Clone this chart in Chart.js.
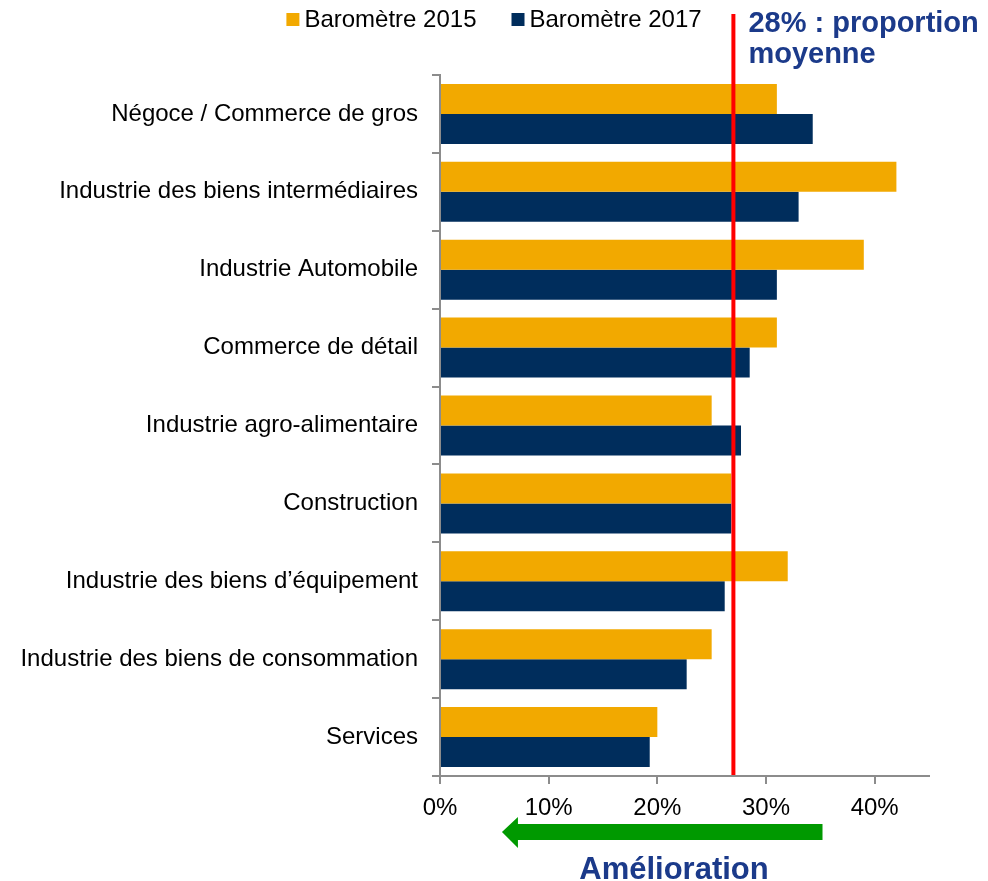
<!DOCTYPE html>
<html>
<head>
<meta charset="utf-8">
<script src="https://cdn.jsdelivr.net/npm/chart.js@4/dist/chart.umd.min.js"></script>
<style>
  html, body { margin: 0; padding: 0; background: #fff; }
  #wrap { width: 988px; height: 881px; position: relative; }
</style>
</head>
<body>
<div id="wrap"><canvas id="c" width="988" height="881"></canvas></div>
<script>
const categories = [
  "Négoce / Commerce de gros",
  "Industrie des biens intermédiaires",
  "Industrie Automobile",
  "Commerce de détail",
  "Industrie agro-alimentaire",
  "Construction",
  "Industrie des biens d\u2019équipement",
  "Industrie des biens de consommation",
  "Services"
];
const barometre2015 = [31, 42, 39, 31, 25, 26.8, 32, 25, 20];
const barometre2017 = [34.3, 33, 31, 28.5, 27.7, 26.8, 26.2, 22.7, 19.3];
const seriesLabels = ["Baromètre 2015", "Baromètre 2017"];
const xTicks = [0, 10, 20, 30, 40];
const averageLineValue = 27;
const averageText = ["28% : proportion", "moyenne"];
const arrowFrom = 35.2;
const arrowTo = 5.7;
const arrowText = "Amélioration";

const FONT = "'Liberation Sans', Arial, Helvetica, sans-serif";
const ORANGE = "#F2A900";
const NAVY = "#002D5C";
const TITLE_BLUE = "#1B3A8A";
const AXIS_GRAY = "#8C8C8C";

const overlay = {
  id: "overlay",
  afterDatasetsDraw(chart) {
    const ctx = chart.ctx;
    const xs = chart.scales.x;
    const area = chart.chartArea;
    ctx.save();
    // red average line
    const rx = xs.getPixelForValue(averageLineValue);
    ctx.strokeStyle = "#FF0000";
    ctx.lineWidth = 4;
    ctx.beginPath();
    ctx.moveTo(rx, 14);
    ctx.lineTo(rx, area.bottom - 1);
    ctx.stroke();

    // average text
    ctx.fillStyle = TITLE_BLUE;
    ctx.font = "bold 29px " + FONT;
    ctx.textAlign = "left";
    ctx.textBaseline = "alphabetic";
    ctx.fillText(averageText[0], rx + 15, 32);
    ctx.fillText(averageText[1], rx + 15, 63);

    // legend
    ctx.font = "24px " + FONT;
    const box = 13, gapBox = 5, gapItem = 35;
    const widths = seriesLabels.map(t => ctx.measureText(t).width);
    const total = widths.reduce((a, w) => a + box + gapBox + w, 0) + gapItem * (seriesLabels.length - 1);
    let lx = chart.width / 2 - total / 2;
    const colors = [ORANGE, NAVY];
    seriesLabels.forEach((t, i) => {
      ctx.fillStyle = colors[i];
      ctx.fillRect(lx, 13, box, box);
      ctx.fillStyle = "#000";
      ctx.textBaseline = "alphabetic";
      ctx.fillText(t, lx + box + gapBox, 27);
      lx += box + gapBox + widths[i] + gapItem;
    });

    // green arrow
    const ax1 = xs.getPixelForValue(arrowFrom);
    const ax0 = xs.getPixelForValue(arrowTo);
    const ay = 832;
    ctx.fillStyle = "#009900";
    ctx.beginPath();
    ctx.moveTo(ax1, ay - 8);
    ctx.lineTo(ax0 + 16, ay - 8);
    ctx.lineTo(ax0 + 16, ay - 15);
    ctx.lineTo(ax0, ay);
    ctx.lineTo(ax0 + 16, ay + 16);
    ctx.lineTo(ax0 + 16, ay + 8);
    ctx.lineTo(ax1, ay + 8);
    ctx.closePath();
    ctx.fill();

    // arrow text
    ctx.fillStyle = TITLE_BLUE;
    ctx.font = "bold 31px " + FONT;
    ctx.textAlign = "center";
    ctx.fillText(arrowText, 674, 879);
    ctx.restore();
  }
};

new Chart(document.getElementById("c"), {
  type: "bar",
  data: {
    labels: categories,
    datasets: [
      { label: seriesLabels[0], data: barometre2015, backgroundColor: ORANGE, borderWidth: 0 },
      { label: seriesLabels[1], data: barometre2017, backgroundColor: NAVY, borderWidth: 0 }
    ]
  },
  options: {
    indexAxis: "y",
    responsive: false,
    devicePixelRatio: 1,
    animation: false,
    layout: { padding: { top: 75, right: 59, bottom: 45, left: 0 } },
    datasets: { bar: { categoryPercentage: 0.77, barPercentage: 1.0 } },
    plugins: {
      legend: { display: false },
      tooltip: { enabled: false }
    },
    scales: {
      x: {
        type: "linear",
        min: 0,
        max: 45,
        afterFit: s => { s.height = 60; },
        afterBuildTicks: s => { s.ticks = xTicks.map(v => ({ value: v })); },
        border: { display: true, color: AXIS_GRAY, width: 2 },
        grid: { drawOnChartArea: false, drawTicks: true, tickLength: 8, color: AXIS_GRAY, lineWidth: 2 },
        ticks: {
          color: "#000",
          font: { family: FONT, size: 24 },
          padding: 10,
          callback: v => v + "%"
        }
      },
      y: {
        afterFit: s => { s.width = 440; },
        border: { display: true, color: AXIS_GRAY, width: 2 },
        grid: { drawOnChartArea: false, drawTicks: true, tickLength: 8, color: AXIS_GRAY, lineWidth: 2, offset: true },
        ticks: {
          color: "#000",
          font: { family: FONT, size: 24 },
          padding: 14
        }
      }
    }
  },
  plugins: [overlay]
});
</script>
</body>
</html>
